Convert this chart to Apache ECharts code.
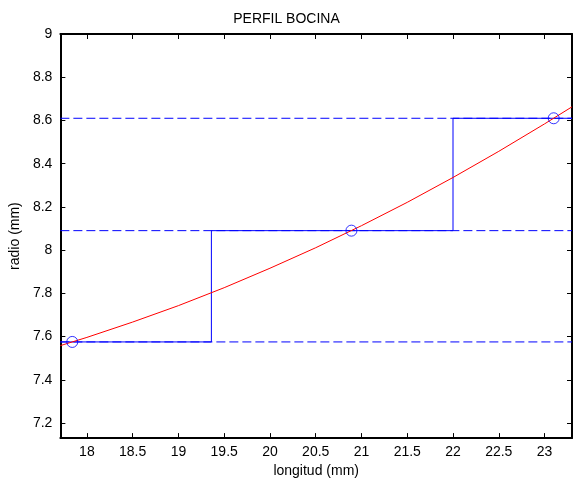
<!DOCTYPE html>
<html>
<head>
<meta charset="utf-8">
<script src="https://cdn.jsdelivr.net/npm/echarts@6/dist/echarts.min.js"></script>
<style>
  html, body { margin: 0; padding: 0; background: #fff; }
  #main { width: 573px; height: 483px; }
</style>
</head>
<body>
<div id="main"></div>
<script>
// perfil de la bocina (curva roja)
const curveX = [17.71, 18, 18.5, 19, 19.5, 20, 20.5, 21, 21.5, 22, 22.5, 23, 23.3];
const curveY = [7.558, 7.596, 7.667, 7.743, 7.826, 7.916, 8.011, 8.113, 8.221, 8.336, 8.457, 8.584, 8.663];

// puntos muestreados (círculos)
const pointX = [17.84, 20.89, 23.1];
const pointY = [7.575, 8.09, 8.61];

// escalones
const stepX = [17.71, 19.36, 22.0, 23.3];
const stepY = [7.575, 8.09, 8.61, 8.61];

const xRange = [17.71, 23.3];
const yRange = [7.13, 9];

const font = "Liberation Sans";
const blue = "#0000ff";

let chart = echarts.init(document.getElementById("main"));

const baseX = {
	type: "value",
	min: xRange[0],
	max: xRange[1],
	splitNumber: 11,
	minInterval: 0.5,
	maxInterval: 0.5,
	splitLine: { show: false },
	axisLine: { onZero: false, lineStyle: { color: "#000", width: 2 } },
	axisTick: { inside: true, length: 5, lineStyle: { color: "#000" } },
};
const baseY = {
	type: "value",
	min: yRange[0],
	max: yRange[1],
	splitNumber: 9,
	minInterval: 0.2,
	maxInterval: 0.2,
	splitLine: { show: false },
	axisLine: { onZero: false, lineStyle: { color: "#000", width: 2 } },
	axisTick: { inside: true, length: 5, lineStyle: { color: "#000" } },
};

// lineas de nivel discontinuas, una serie por nivel
const levelSeries = pointY.map((v, i) => ({
	name: "nivel " + (i + 1),
	type: "line",
	data: [[xRange[0], v], [xRange[1], v]],
	symbol: "none",
	silent: true,
	z: 1,
	lineStyle: { color: blue, width: 1, type: [9, 4] },
}));

const option = {
	animation: false,
	backgroundColor: "#fff",
	title: {
		text: "PERFIL BOCINA",
		left: "center",
		top: 7,
		textStyle: { fontFamily: font, fontSize: 14, fontWeight: "normal", color: "#000" },
	},
	grid: { left: 60, top: 34, right: 1, bottom: 44 },
	xAxis: [
		Object.assign({}, baseX, {
			position: "bottom",
			name: "longitud (mm)",
			nameLocation: "middle",
			nameGap: 24,
			nameTextStyle: { fontFamily: font, fontSize: 14, color: "#000" },
			axisLabel: {
				showMinLabel: false,
				showMaxLabel: false,
				margin: 7,
				fontFamily: font,
				fontSize: 14,
				color: "#000",
			},
		}),
		Object.assign({}, baseX, { position: "top", axisLabel: { show: false } }),
	],
	yAxis: [
		Object.assign({}, baseY, {
			position: "left",
			name: "radio (mm)",
			nameLocation: "middle",
			nameRotate: 90,
			nameGap: 33,
			nameTextStyle: { fontFamily: font, fontSize: 14, color: "#000" },
			axisLabel: {
				showMinLabel: false,
				margin: 8,
				fontFamily: font,
				fontSize: 14,
				color: "#000",
			},
		}),
		Object.assign({}, baseY, { position: "right", axisLabel: { show: false } }),
	],
	series: levelSeries.concat([
		{
			name: "escalones",
			type: "line",
			step: "end",
			data: stepX.map((x, i) => [x, stepY[i]]),
			symbol: "none",
			z: 2,
			lineStyle: { color: blue, width: 1 },
		},
		{
			name: "perfil",
			type: "line",
			data: curveX.map((x, i) => [x, curveY[i]]),
			symbol: "none",
			z: 3,
			lineStyle: { color: "#ff0000", width: 1 },
		},
		{
			name: "muestras",
			type: "scatter",
			data: pointX.map((x, i) => [x, pointY[i]]),
			symbol: "circle",
			symbolSize: 11,
			z: 4,
			itemStyle: { color: "none", borderColor: blue, borderWidth: 1 },
		},
	]),
};

chart.setOption(option);
</script>
</body>
</html>
